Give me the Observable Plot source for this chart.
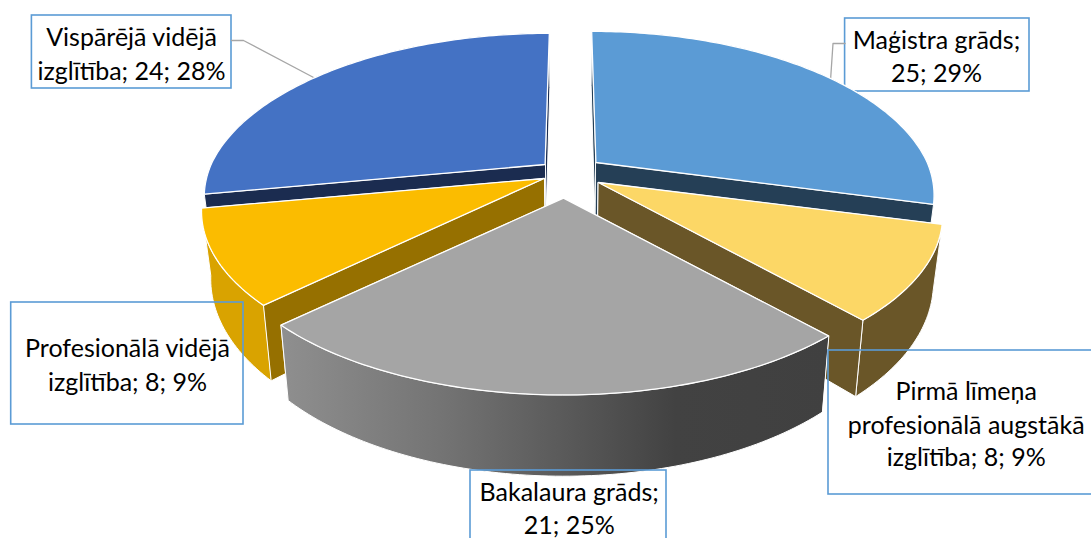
<!DOCTYPE html>
<html lang="lv">
<head>
<meta charset="utf-8">
<style>
html,body{margin:0;padding:0;background:#fff;overflow:hidden}
svg{display:block}
</style>
<script src="https://cdn.jsdelivr.net/npm/d3@7"></script>
<script src="https://cdn.jsdelivr.net/npm/@observablehq/plot@0.6"></script>
</head>
<body>
<div id="chart"></div>
<script>
// Chart data
const categories = ["Maģistra grāds", "Pirmā līmeņa profesionālā augstākā izglītība", "Bakalaura grāds", "Profesionālā vidējā izglītība", "Vispārējā vidējā izglītība"];
const counts = [25, 8, 21, 8, 24];
const percents = [29, 9, 25, 9, 28];
const labelLines = [
  ["Maģistra grāds;", `${counts[0]}; ${percents[0]}%`],
  ["Pirmā līmeņa", "profesionālā augstākā", `izglītība; ${counts[1]}; ${percents[1]}%`],
  ["Bakalaura grāds;", `${counts[2]}; ${percents[2]}%`],
  ["Profesionālā vidējā", `izglītība; ${counts[3]}; ${percents[3]}%`],
  ["Vispārējā vidējā", `izglītība; ${counts[4]}; ${percents[4]}%`]
];

// Styling
const topColors = ["#5b9bd5", "#fcd766", "#a5a5a5", "#fbbc00", "#4472c4"];
const outerColors = ["#2a4d6d", "#6a5628", "url(#bachelorWall)", "#d9a300", "#1b2c50"];
const radialColors = ["#253f56", "#6a5628", "#555555", "#967000", "#1b2c50"];

// Layout of the exploded, perspective pie
const apexes = [[595.4, 162], [597.9, 182], [563, 197.7], [543.6, 178], [544.6, 164]];
const radiusScale = [0.992, 1.01, 1.012, 1.005, 1];
const rx = 334, ry = 157.4, persp = 0.2, vanishX = 570, depth = 65, taper = 0.975;
const total = d3.sum(counts);
const rad = Math.PI / 180;

function project(apex, deg, scale) {
  const u = Math.sin(deg * rad), v = Math.cos(deg * rad), w = 1 + persp * v;
  const shift = v > 0 ? (apex[0] - vanishX) * (1 / w - 1) : 0;
  return [apex[0] + scale * rx * u / w + shift, apex[1] - ry * v / w, w];
}
const lower = ([x, y, w]) => [vanishX + (x - vanishX) * taper, y + depth / (w ?? 1)];

let acc = 0;
const slices = counts.map((c, i) => {
  const a0 = acc / total * 360; acc += c; const a1 = acc / total * 360;
  const apex = apexes[i];
  const steps = d3.range(a0, a1, 1).concat(a1);
  const arc = steps.map(d => project(apex, d, radiusScale[i]));
  const apexBottom = lower([apex[0], apex[1], 1]);
  const top = [apex, ...arc];
  const outer = [...arc, ...arc.map(lower).reverse()];
  const wallStart = [apex, arc[0], lower(arc[0]), apexBottom];
  const wallEnd = [apex, arc[arc.length - 1], lower(arc[arc.length - 1]), apexBottom];
  return {i, top, outer, wallStart, wallEnd};
});

const poly = (pts, fill, stroke = "#ffffff", strokeWidth = 1.3) =>
  Plot.line(pts, {x: d => d[0], y: d => d[1], fill, stroke, strokeWidth, curve: "linear-closed"});

// Painter's order inside each slice: hidden walls, outer wall, the radial wall facing the viewer, top.
const wallOrder = [
  ["outer", "wallStart", "wallEnd"],
  ["wallStart", "outer", "wallEnd"],
  ["wallStart", "wallEnd", "outer"],
  ["wallEnd", "outer", "wallStart"],
  ["outer", "wallEnd", "wallStart"]
];
function sliceMarks(i) {
  const s = slices[i];
  const walls = wallOrder[i].map(k => poly(s[k], k === "outer" ? outerColors[i] : radialColors[i], "#ffffff", 1));
  return [...walls, poly(s.top, topColors[i])];
}

// Label boxes
const boxColor = "#5b9bd5";
const boxes = [
  {x1: 844.6, x2: 1029, y1: 18, y2: 91},
  {x1: 828, x2: 1100, y1: 350, y2: 494},
  {x1: 470, x2: 666, y1: 470, y2: 545},
  {x1: 10.7, x2: 243, y1: 302, y2: 424},
  {x1: 31.4, x2: 231, y1: 15, y2: 88}
];
const textAnchors = [
  {x: 936, ys: [40, 73]},
  {x: 965.7, ys: [391, 425, 457]},
  {x: 568.7, ys: [492, 525]},
  {x: 127, ys: [348, 382]},
  {x: 131, ys: [37, 71]}
];
const labelRows = labelLines.flatMap((lines, i) =>
  lines.map((t, j) => ({t, x: textAnchors[i].x, y: textAnchors[i].ys[j]})));

const leaders = [
  [[844.6, 43], [832.5, 43], [830, 80]],
  [[231, 40], [243, 40], [315, 78]]
];

const gradientDefs = () => {
  const defs = d3.create("svg:defs");
  const g = defs.append("linearGradient").attr("id", "bachelorWall");
  [[0, "#8f8f8f"], [0.3, "#737373"], [0.55, "#565656"], [0.72, "#424242"], [1, "#404040"]]
    .forEach(([o, c]) => g.append("stop").attr("offset", o).attr("stop-color", c));
  return defs.node();
};

const chart = Plot.plot({
  width: 1091,
  height: 538,
  margin: 0,
  x: {domain: [0, 1091], range: [0, 1091], axis: null},
  y: {domain: [0, 538], range: [0, 538], axis: null},
  style: {background: "#ffffff"},
  marks: [
    gradientDefs,
    Plot.rect([boxes[0], boxes[4]], {x1: "x1", x2: "x2", y1: "y1", y2: "y2", fill: "#ffffff", stroke: boxColor, strokeWidth: 1.6}),
    ...leaders.map(l => Plot.line(l, {x: d => d[0], y: d => d[1], stroke: "#a6a6a6", strokeWidth: 1.3})),
    ...[4, 0, 1, 3, 2].flatMap(sliceMarks),
    Plot.rect([boxes[1], boxes[2], boxes[3]], {x1: "x1", x2: "x2", y1: "y1", y2: "y2", fill: "none", stroke: boxColor, strokeWidth: 1.6}),
    Plot.text(labelRows, {x: "x", y: "y", text: "t", fill: "#000000", fontSize: 25, fontFamily: "Lato", textAnchor: "middle", lineAnchor: "middle"})
  ]
});
document.getElementById("chart").append(chart);
</script>
</body>
</html>
